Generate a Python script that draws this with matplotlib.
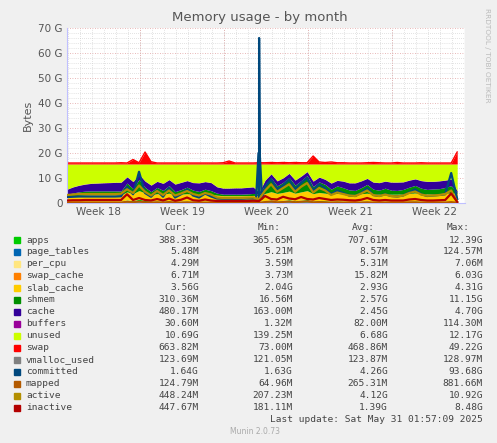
import numpy as np
import matplotlib
matplotlib.use("Agg")
import matplotlib.pyplot as plt

# time grid: half-day samples (days since start of graph)
n = 66
t = np.arange(n) * 0.5

apps = [0.45,0.5,0.55,0.6,0.6,0.6,0.62,0.6,0.6,0.65,1.2,0.9,1.5,1.0,0.7,0.8,0.7,0.9,0.6,0.7,0.8,0.7,0.6,0.7,0.6,0.5,0.5,0.5,0.5,0.5,0.5,0.5,
        0.6,0.9,1.2,0.8,1.0,1.3,0.9,1.1,1.4,0.8,1.0,0.9,0.7,0.8,0.7,0.6,0.6,0.7,0.8,0.6,0.6,0.7,0.6,0.6,0.6,0.7,0.8,0.7,0.6,0.6,0.6,0.7,0.5,0.4]
page_tables = [0.01,0.01,0.01,0.01,0.01,0.01,0.01,0.01,0.01,0.01,0.02,0.02,0.03,0.02,0.01,0.01,0.01,0.01,0.01,0.01,0.01,0.01,0.01,0.01,0.01,0.01,0.01,0.01,0.01,0.01,0.01,0.01,
               0.01,0.02,0.02,0.01,0.02,0.02,0.01,0.02,0.02,0.01,0.01,0.01,0.01,0.01,0.01,0.01,0.01,0.01,0.01,0.01,0.01,0.01,0.01,0.01,0.01,0.01,0.01,0.01,0.01,0.01,0.01,0.01,0.01,0.01]
per_cpu = [0.005]*n
swap_cache = [0.01,0.01,0.01,0.02,0.02,0.02,0.02,0.02,0.02,0.02,0.03,0.02,0.03,0.02,0.02,0.02,0.02,0.02,0.02,0.02,0.02,0.02,0.01,0.01,0.01,0.01,0.01,0.01,0.01,0.01,0.01,0.01,
              0.02,0.02,0.02,0.02,0.02,0.02,0.02,0.02,0.02,0.02,0.02,0.02,0.02,0.02,0.01,0.01,0.01,0.01,0.01,0.01,0.01,0.01,0.01,0.01,0.01,0.01,0.01,0.01,0.01,0.01,0.01,0.01,0.01,0.01]
slab_cache = [2.0,2.3,2.5,2.6,2.7,2.7,2.7,2.7,2.7,2.6,3.2,2.8,3.4,3.0,2.6,2.9,2.8,3.0,2.7,2.8,2.9,2.8,2.7,2.8,2.8,2.6,2.4,2.4,2.4,2.4,2.4,2.5,
              2.4,2.9,3.3,3.0,3.2,3.4,3.0,3.3,3.5,2.9,3.2,3.0,2.8,3.0,2.9,2.8,2.8,3.0,3.1,2.9,2.9,3.0,2.9,2.9,3.0,3.1,3.2,3.0,3.0,3.1,3.1,3.3,3.4,3.5]
shmem = [1.0,1.2,1.4,1.5,1.5,1.5,1.5,1.5,1.5,1.5,3.5,2.0,4.5,2.2,1.2,2.5,1.5,3.0,1.2,1.8,2.6,1.6,1.3,2.0,1.5,0.8,0.6,0.6,0.6,0.6,0.7,0.8,
         0.5,3.5,5.5,3.0,4.0,5.5,3.2,4.5,6.0,2.8,4.2,3.5,2.0,3.0,2.5,1.8,1.6,2.4,3.5,2.0,1.6,2.2,1.6,1.5,1.8,2.5,3.0,2.2,1.8,1.9,2.0,2.2,3.0,0.3]
cache = [2.0,2.4,2.6,2.8,3.0,3.1,3.2,3.3,3.4,3.5,2.5,2.8,2.0,2.5,2.6,2.4,2.8,2.4,3.0,2.9,2.6,3.0,3.4,3.0,3.2,2.5,2.4,2.4,2.5,2.5,2.6,2.6,
         0.8,1.8,1.6,2.0,1.8,1.6,2.0,1.8,1.6,2.2,1.9,2.0,2.4,2.2,2.6,2.8,3.0,2.7,2.4,2.8,3.0,2.8,3.2,3.3,3.0,2.8,2.6,3.0,3.2,3.0,3.1,2.9,2.6,0.5]
buffers = [0.08]*n
ram_total = 15.6
swap = [0.4,0.4,0.4,0.4,0.4,0.4,0.4,0.4,0.4,0.5,0.4,1.8,0.5,4.8,0.9,0.4,0.4,0.4,0.4,0.4,0.4,0.4,0.4,0.4,0.4,0.4,0.5,1.2,0.4,0.4,0.4,0.4,
        0.5,0.5,0.6,0.5,0.6,0.5,0.6,0.5,0.5,3.2,0.8,0.6,0.8,0.5,0.5,0.4,0.4,0.4,0.5,0.6,0.5,0.4,0.4,0.6,0.4,0.4,0.4,0.5,0.4,0.4,0.4,0.4,0.4,4.8]

vmalloc_used = [0.12]*n
committed = [2.4,2.5,2.6,2.6,2.6,2.6,2.6,2.6,2.6,2.7,6.5,3.5,12.5,4.0,2.5,5.0,2.5,6.0,2.2,3.5,5.5,3.0,2.2,3.8,2.6,1.8,1.7,1.7,1.7,1.7,1.8,1.8,
             1.8,6.5,9.5,5.5,7.0,9.5,5.5,8.0,10.0,5.0,7.5,6.0,3.5,5.0,4.0,3.0,2.8,4.0,6.0,3.2,2.8,3.5,2.8,2.6,3.0,4.2,5.5,3.5,2.8,3.0,3.2,3.5,12.0,1.6]
spike_t = [15.75, 15.95, 16.0, 16.05, 16.25]
spike_v = [1.8, 20.0, 66.0, 20.0, 1.8]
active = [3.2,3.4,3.6,3.6,3.6,3.6,3.6,3.6,3.6,3.7,5.5,4.0,7.0,4.5,3.0,4.8,3.2,5.0,3.0,3.8,4.8,3.6,3.0,4.0,3.4,2.2,2.0,2.0,2.0,2.0,2.1,2.2,
          1.5,5.0,7.5,4.5,6.0,7.5,4.5,6.5,8.0,4.2,6.0,5.0,3.2,4.2,3.6,3.0,2.8,3.8,5.0,3.2,2.8,3.4,2.8,2.6,3.0,4.0,4.6,3.4,2.9,3.0,3.2,3.6,5.0,0.45]
inactive = [1.0,1.1,1.1,1.2,1.2,1.2,1.2,1.2,1.2,1.2,3.5,1.2,2.0,1.2,1.0,1.6,1.0,1.8,0.9,1.3,2.2,1.1,0.9,1.4,1.0,0.8,0.8,0.8,0.8,0.8,0.8,0.9,
            0.8,2.8,1.6,1.4,2.5,1.8,1.5,2.4,1.6,1.4,2.0,1.6,1.2,1.4,1.3,1.1,1.0,1.3,2.0,1.2,1.0,1.2,1.0,1.0,1.0,1.4,1.6,1.2,1.0,1.0,1.1,1.2,3.8,0.45]
mapped = [0.2,0.2,0.2,0.2,0.2,0.2,0.2,0.2,0.2,0.2,0.5,0.3,0.6,0.3,0.2,0.3,0.2,0.4,0.2,0.2,0.3,0.2,0.2,0.2,0.2,0.15,0.15,0.15,0.15,0.15,0.15,0.15,
          0.1,0.4,0.6,0.3,0.4,0.6,0.3,0.5,0.7,0.3,0.4,0.3,0.2,0.3,0.2,0.2,0.2,0.2,0.3,0.2,0.2,0.2,0.2,0.2,0.2,0.3,0.3,0.2,0.2,0.2,0.2,0.2,0.4,0.12]

names = ["apps","page_tables","per_cpu","swap_cache","slab_cache","shmem","cache","buffers","unused","swap",
         "vmalloc_used","committed","mapped","active","inactive"]
colors = ["#00CC00","#0066B3","#FFE680","#FF8000","#FFCC00","#008F00","#330099","#990099","#CCFF00","#FF0000",
          "#808080","#00487D","#B35A00","#B38F00","#B30000"]
cur = ["388.33M","5.48M","4.29M","6.71M","3.56G","310.36M","480.17M","30.60M","10.69G","663.82M","123.69M","1.64G","124.79M","448.24M","447.67M"]
mins = ["365.65M","5.21M","3.59M","3.73M","2.04G","16.56M","163.00M","1.32M","139.25M","73.00M","121.05M","1.63G","64.96M","207.23M","181.11M"]
avgs = ["707.61M","8.57M","5.31M","15.82M","2.93G","2.57G","2.45G","82.00M","6.68G","468.86M","123.87M","4.26G","265.31M","4.12G","1.39G"]
maxs = ["12.39G","124.57M","7.06M","6.03G","4.31G","11.15G","4.70G","114.30M","12.17G","49.22G","128.97M","93.68G","881.66M","10.92G","8.48G"]
week_labels = ["Week 18","Week 19","Week 20","Week 21","Week 22"]
week_starts = [6.1, 13.1, 20.1, 27.1]

W, H = 497, 443
fig = plt.figure(figsize=(W/100, H/100), dpi=100, facecolor="#F0F0F0")
ax = fig.add_axes([67/W, 1-203/H, 398/W, 175/H], facecolor="white")

base_parts = [apps, page_tables, per_cpu, swap_cache, slab_cache, shmem, cache, buffers]
arr = [np.array(p, float) for p in base_parts]
unused = ram_total - np.sum(arr, axis=0)
arr.append(unused)
arr.append(np.array(swap, float))
bottom = np.zeros(n)
for a, c in zip(arr, colors[:10]):
    ax.fill_between(t, bottom, bottom + a, color=c, lw=0, zorder=2)
    bottom = bottom + a
ax.plot(t, bottom, color="#FF0000", lw=1, zorder=2)

ax.plot(t, vmalloc_used, color=colors[10], lw=1.2, zorder=3)
ct = np.concatenate([t, spike_t]); cv = np.concatenate([committed, spike_v])
o = np.argsort(ct)
ax.plot(ct[o], cv[o], color=colors[11], lw=1.6, zorder=3)
ax.plot(t, mapped, color=colors[12], lw=1.4, zorder=3)
ax.plot(t, active, color=colors[13], lw=1.6, zorder=3)
ax.plot(t, inactive, color=colors[14], lw=1.6, zorder=3)

ax.set_xlim(0, 33.15)
ax.set_ylim(0, 70)
for y in np.arange(2, 70, 2):
    if y % 10:
        ax.axhline(y, color="#C8C8C8", lw=0.5, ls=(0, (1, 2)), zorder=1)
for y in range(10, 71, 10):
    ax.axhline(y, color="#E0A0A0", lw=0.6, ls=(0, (1, 2)), zorder=1)
for d in np.arange(0.1, 33, 1.0):
    ax.axvline(d, color="#C8C8C8", lw=0.5, ls=(0, (1, 2)), zorder=1)
for d in week_starts:
    ax.axvline(d, color="#E0A0A0", lw=0.6, ls=(0, (1, 2)), zorder=1)
ax.axvline(33.15, color="#999999", lw=0.8, zorder=1)

ax.set_yticks(range(0, 71, 10))
ax.set_yticklabels(["0"] + [f"{v} G" for v in range(10, 71, 10)])
ax.set_xticks([s - 3.5 for s in week_starts] + [week_starts[-1] + 3.5])
ax.set_xticklabels(week_labels)
ax.tick_params(length=0, labelsize=7.5, colors="#555555", pad=3)
for s in ["top", "right"]:
    ax.spines[s].set_visible(False)
ax.spines["left"].set_color("#C0C0FF")
ax.spines["bottom"].set_color("#C0C0FF")
ax.set_ylabel("Bytes", fontsize=8, color="#555555")

fig.text(260/W, 1-18/H, "Memory usage - by month", ha="center", va="center", fontsize=9.5, color="#555555")
fig.text(487/W, 1-55/H, "RRDTOOL / TOBI OETIKER", rotation=270, ha="center", va="center", fontsize=5.3, color="#BBBBBB")

mono = "DejaVu Sans Mono"
fs = 6.8
tc = "#444444"
heads = [("Cur:", 187), ("Min:", 281), ("Avg:", 375), ("Max:", 470)]
for h, x in heads:
    fig.text(x/W, 1-228/H, h, ha="right", va="center", fontsize=fs, family=mono, color=tc)
for i, nm in enumerate(names):
    y = 1 - (240 + i * 12) / H
    fig.patches.append(plt.Rectangle((14/W, y - 3/H), 6/W, 6/H, transform=fig.transFigure, color=colors[i]))
    fig.text(26/W, y, nm, ha="left", va="center", fontsize=fs, family=mono, color=tc)
    fig.text(199/W, y, cur[i], ha="right", va="center", fontsize=fs, family=mono, color=tc)
    fig.text(293/W, y, mins[i], ha="right", va="center", fontsize=fs, family=mono, color=tc)
    fig.text(388/W, y, avgs[i], ha="right", va="center", fontsize=fs, family=mono, color=tc)
    fig.text(483/W, y, maxs[i], ha="right", va="center", fontsize=fs, family=mono, color=tc)
fig.text(483/W, 1-420/H, "Last update: Sat May 31 01:57:09 2025", ha="right", va="center", fontsize=fs, family=mono, color=tc)
fig.text(255/W, 1-432/H, "Munin 2.0.73", ha="center", va="center", fontsize=5.5, color="#AAAAAA")

fig.savefig("out.png", dpi=100, facecolor=fig.get_facecolor())
